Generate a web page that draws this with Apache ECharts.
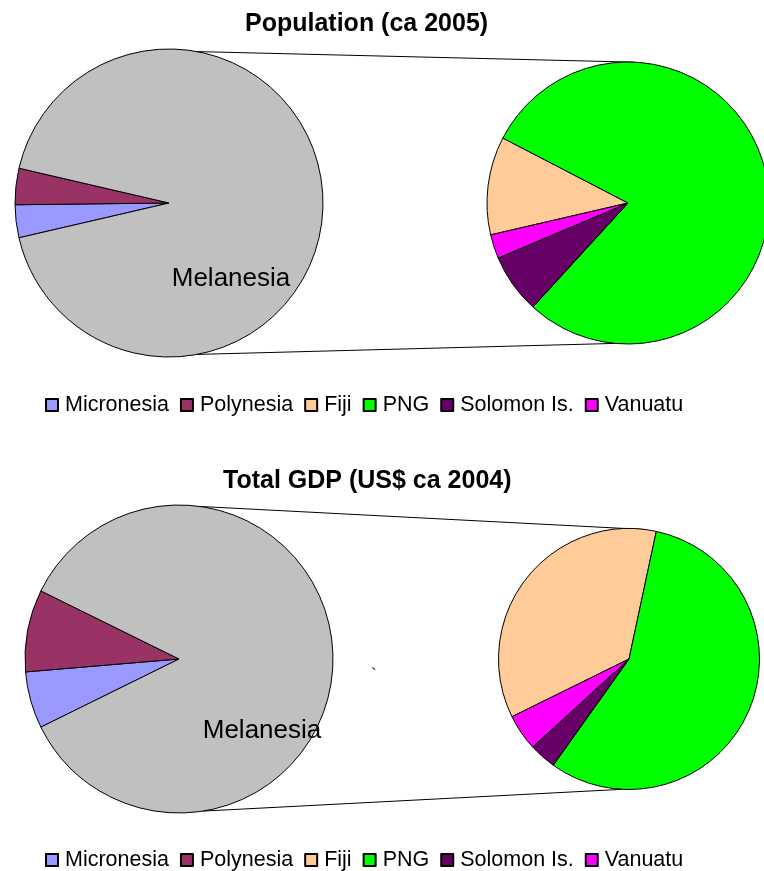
<!DOCTYPE html>
<html>
<head>
<meta charset="utf-8">
<script src="https://cdn.jsdelivr.net/npm/echarts@6/dist/echarts.min.js"></script>
<style>
  html, body { margin: 0; padding: 0; background: #fff; }
  #chart { width: 764px; height: 871px; }
</style>
</head>
<body>
<div id="chart"></div>
<script>
// ---- Data ----
const legendNames = ['Micronesia', 'Polynesia', 'Fiji', 'PNG', 'Solomon Is.', 'Vanuatu'];
const regionNames = ['Micronesia', 'Polynesia'];
const otherName = 'Melanesia';
const melanesiaNames = ['Fiji', 'PNG', 'Solomon Is.', 'Vanuatu'];

// Population ca 2005 (thousands)
const popRegions = [277, 306];
const popMelanesia = [838, 5900, 509, 205];

// Total GDP US$ ca 2004 (millions)
const gdpRegions = [481, 697];
const gdpMelanesia = [2460, 3900, 232, 310];

const titles = ['Population (ca 2005)', 'Total GDP (US$ ca 2004)'];
const stray = '`';

// ---- Styles ----
const colors = {
  'Micronesia': '#9999FF', 'Polynesia': '#993366', 'Melanesia': '#C0C0C0',
  'Fiji': '#FFCC99', 'PNG': '#00FF00', 'Solomon Is.': '#660066', 'Vanuatu': '#FF00FF'
};
const FONT = '"Liberation Sans", Arial, sans-serif';

const layouts = [
  { main: [169, 203], mainR: 154, sub: [628, 203], subR: 141,
    titleLeft: 245, titleTop: 12, legendLeft: 45, legendTop: 394,
    labelShift: [-18, 76], lines: [[79.5, 87], [-79.5, -95.3]] },
  { main: [179, 659], mainR: 154, sub: [629, 659], subR: 130.5,
    titleLeft: 223, titleTop: 469, legendLeft: 45, legendTop: 849,
    labelShift: [3, 72], lines: [[82, 82.7], [-81, -93]] }
];

const sum = a => a.reduce((s, v) => s + v, 0);

function pt(c, r, deg) {
  const a = deg * Math.PI / 180;
  return [c[0] + r * Math.cos(a), c[1] - r * Math.sin(a)];
}

function buildPair(regions, melanesia, L, idx) {
  const melTotal = sum(melanesia);
  const smallTotal = sum(regions);
  const start = 180 + (smallTotal / (smallTotal + melTotal)) * 360 / 2;
  const mainData = regionNames.map((n, i) => ({ name: n, value: regions[i], itemStyle: { color: colors[n] } }));
  mainData.push({
    name: otherName, value: melTotal, itemStyle: { color: colors[otherName] },
    label: { show: true, position: 'inside', formatter: '{b}', fontSize: 26, color: '#000', fontFamily: FONT }
  });
  const subData = melanesiaNames.map((n, i) => ({ name: n, value: melanesia[i], itemStyle: { color: colors[n] } }));
  const common = {
    type: 'pie', startAngle: start, clockwise: true, avoidLabelOverlap: false,
    label: { show: false }, labelLine: { show: false },
    itemStyle: { borderColor: '#000', borderWidth: 1 },
    emphasis: { disabled: true }, animation: false
  };
  return [
    Object.assign({}, common, {
      id: 'main' + idx, center: L.main, radius: L.mainR, data: mainData,
      labelLayout: () => ({ dx: L.labelShift[0], dy: L.labelShift[1] })
    }),
    Object.assign({}, common, { id: 'sub' + idx, center: L.sub, radius: L.subR, data: subData })
  ];
}

const series = [
  ...buildPair(popRegions, popMelanesia, layouts[0], 0),
  ...buildPair(gdpRegions, gdpMelanesia, layouts[1], 1)
];

const graphics = [];
layouts.forEach(L => {
  L.lines.forEach(([a1, a2]) => {
    const p1 = pt(L.main, L.mainR, a1), p2 = pt(L.sub, L.subR, a2);
    graphics.push({ type: 'line', z: -1, shape: { x1: p1[0], y1: p1[1], x2: p2[0], y2: p2[1] },
      style: { stroke: '#000', lineWidth: 1 } });
  });
});
graphics.push({ type: 'text', x: 374, y: 676, style: { text: stray, font: '16px ' + FONT, fill: '#000',
  textAlign: 'center', textVerticalAlign: 'middle' } });

const option = {
  backgroundColor: '#fff',
  title: layouts.map((L, i) => ({
    text: titles[i], left: L.titleLeft, top: L.titleTop, padding: 0,
    textStyle: { fontSize: 25, fontWeight: 'bold', color: '#000', fontFamily: FONT }
  })),
  legend: layouts.map(L => ({
    data: legendNames, left: L.legendLeft, top: L.legendTop, padding: 0,
    icon: 'rect', itemWidth: 12, itemHeight: 12, itemGap: 11, selectedMode: false,
    textStyle: { fontSize: 21.5, color: '#000', fontFamily: FONT, padding: [0, 0, 0, 2] }
  })),
  graphic: graphics,
  series: series
};

const chart = echarts.init(document.getElementById('chart'), null, { renderer: 'canvas' });
chart.setOption(option);
</script>
</body>
</html>
